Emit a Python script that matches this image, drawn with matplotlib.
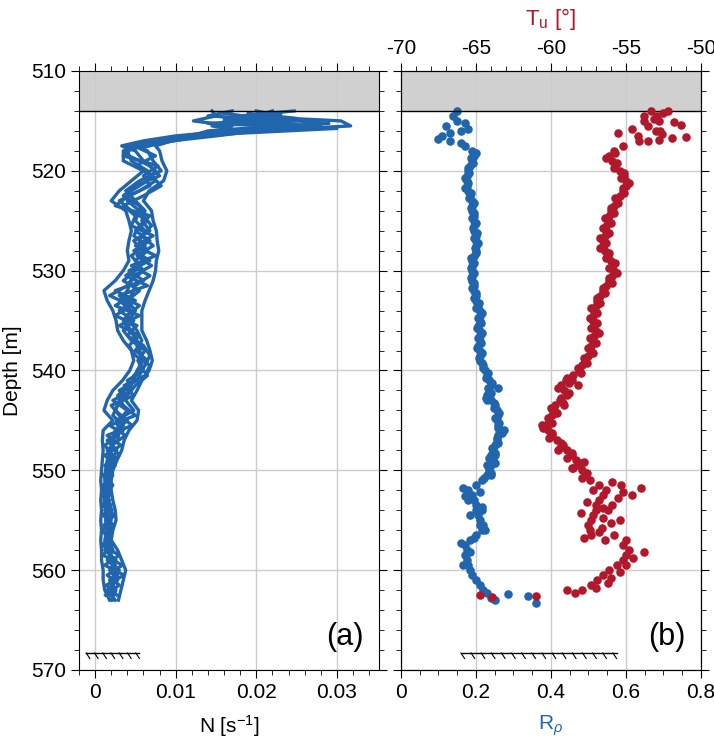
import numpy as np
import matplotlib
matplotlib.use("Agg")
import matplotlib.pyplot as plt

plt.rcParams["font.family"] = ["Liberation Sans", "DejaVu Sans"]
plt.rcParams["mathtext.fontset"] = "custom"
plt.rcParams["mathtext.rm"] = "Liberation Sans"
plt.rcParams["mathtext.it"] = "Liberation Sans:italic"
plt.rcParams["font.size"] = 15
plt.rcParams["axes.unicode_minus"] = False

BLUE = "#2166ac"
RED = "#b2182b"

# ── Data ──────────────────────────────────────────────────────────────────────

# buoyancy frequency profiles (several casts, two depth grids)
n_depth = [514.0, 514.5, 515.0, 515.5, 516.0, 516.5, 517.0, 517.5,
           518, 519, 520, 521, 522, 523, 524, 525, 526, 527, 528, 529,
           530, 531, 532, 533, 534, 535, 536, 537, 538, 539, 540, 541,
           542, 543, 544, 545, 546, 547, 548, 549, 550, 551, 552, 553,
           554, 555, 556, 557, 558, 559, 560, 561, 562, 563]

n_cast1 = [0.0145, 0.0150, 0.0122, 0.0170, 0.0155, 0.0110, 0.0075, 0.0045,
           0.0035, 0.0035, 0.0060, 0.0045, 0.0030, 0.0020, 0.0038, 0.0042,
           0.0045, 0.0042, 0.0040, 0.0042, 0.0035, 0.0025, 0.0011, 0.0015,
           0.0022, 0.0026, 0.0028, 0.0035, 0.0045, 0.0048, 0.0043, 0.0034,
           0.0022, 0.0015, 0.0011, 0.0022, 0.0010, 0.0009, 0.0010, 0.0009,
           0.0008, 0.0007, 0.0008, 0.0007, 0.0008, 0.0007, 0.0008, 0.0007,
           0.0008, 0.0008, 0.0010, 0.0010, 0.0012, 0.0018]
n_cast2 = [0.0247, 0.0180, 0.0305, 0.0317, 0.0200, 0.0150, 0.0095, 0.0075,
           0.0080, 0.0083, 0.0089, 0.0085, 0.0067, 0.0060, 0.0070, 0.0072,
           0.0076, 0.0077, 0.0079, 0.0076, 0.0075, 0.0072, 0.0067, 0.0062,
           0.0058, 0.0058, 0.0058, 0.0064, 0.0068, 0.0071, 0.0067, 0.0058,
           0.0052, 0.0045, 0.0054, 0.0052, 0.0042, 0.0036, 0.0033, 0.0027,
           0.0022, 0.0020, 0.0020, 0.0022, 0.0025, 0.0026, 0.0022, 0.0020,
           0.0028, 0.0033, 0.0038, 0.0035, 0.0032, 0.0029]
n_cast3 = [0.0200, 0.0230, 0.0160, 0.0280, 0.0170, 0.0100, 0.0060, 0.0033,
           0.0050, 0.0060, 0.0075, 0.0065, 0.0045, 0.0040, 0.0055, 0.0050,
           0.0062, 0.0055, 0.0065, 0.0050, 0.0060, 0.0045, 0.0040, 0.0030,
           0.0045, 0.0035, 0.0045, 0.0052, 0.0055, 0.0060, 0.0052, 0.0048,
           0.0035, 0.0030, 0.0025, 0.0040, 0.0025, 0.0022, 0.0020, 0.0015,
           0.0013, 0.0012, 0.0014, 0.0011, 0.0016, 0.0013, 0.0015, 0.0012,
           0.0018, 0.0020, 0.0025, 0.0022, 0.0020, 0.0022]
n_cast4 = [0.0170, 0.0140, 0.0250, 0.0145, 0.0180, 0.0130, 0.0085, 0.0060,
           0.0040, 0.0045, 0.0065, 0.0075, 0.0055, 0.0030, 0.0045, 0.0065,
           0.0050, 0.0068, 0.0048, 0.0068, 0.0042, 0.0060, 0.0025, 0.0050,
           0.0030, 0.0048, 0.0035, 0.0045, 0.0062, 0.0053, 0.0060, 0.0040,
           0.0045, 0.0022, 0.0040, 0.0030, 0.0035, 0.0015, 0.0027, 0.0020,
           0.0017, 0.0015, 0.0010, 0.0018, 0.0012, 0.0020, 0.0010, 0.0016,
           0.0012, 0.0026, 0.0018, 0.0028, 0.0015, 0.0025]
n_cast5 = [0.0220, 0.0200, 0.0190, 0.0230, 0.0140, 0.0120, 0.0070, 0.0050,
           0.0065, 0.0072, 0.0082, 0.0055, 0.0038, 0.0050, 0.0062, 0.0058,
           0.0068, 0.0048, 0.0058, 0.0060, 0.0050, 0.0035, 0.0055, 0.0040,
           0.0050, 0.0042, 0.0052, 0.0058, 0.0050, 0.0065, 0.0058, 0.0052,
           0.0030, 0.0038, 0.0048, 0.0026, 0.0030, 0.0028, 0.0015, 0.0023,
           0.0020, 0.0017, 0.0016, 0.0015, 0.0021, 0.0017, 0.0019, 0.0018,
           0.0022, 0.0015, 0.0030, 0.0018, 0.0026, 0.0020]

n_depth_b = [514.25, 514.75, 515.25, 515.75, 516.25, 516.75, 517.25, 517.75,
             518.5, 519.5, 520.5, 521.5, 522.5, 523.5, 524.5, 525.5, 526.5,
             527.5, 528.5, 529.5, 530.5, 531.5, 532.5, 533.5, 534.5, 535.5,
             536.5, 537.5, 538.5, 539.5, 540.5, 541.5, 542.5, 543.5, 544.5,
             545.5, 546.5, 547.5, 548.5, 549.5, 550.5, 551.5, 552.5, 553.5,
             554.5, 555.5, 556.5, 557.5, 558.5, 559.5, 560.5, 561.5, 562.5]

n_cast6 = [0.0160, 0.0210, 0.0290, 0.0190, 0.0160, 0.0095, 0.0060, 0.0038,
           0.0042, 0.0068, 0.0080, 0.0050, 0.0035, 0.0055, 0.0060, 0.0070,
           0.0058, 0.0072, 0.0052, 0.0070, 0.0048, 0.0040, 0.0018, 0.0045,
           0.0025, 0.0052, 0.0040, 0.0060, 0.0068, 0.0062, 0.0048, 0.0045,
           0.0028, 0.0035, 0.0050, 0.0018, 0.0038, 0.0020, 0.0030, 0.0012,
           0.0022, 0.0010, 0.0018, 0.0009, 0.0024, 0.0011, 0.0020, 0.0009,
           0.0030, 0.0012, 0.0036, 0.0014, 0.0027]
n_cast7 = [0.0230, 0.0160, 0.0200, 0.0260, 0.0130, 0.0115, 0.0080, 0.0055,
           0.0075, 0.0050, 0.0070, 0.0082, 0.0060, 0.0035, 0.0050, 0.0045,
           0.0072, 0.0050, 0.0075, 0.0045, 0.0068, 0.0050, 0.0045, 0.0025,
           0.0055, 0.0030, 0.0055, 0.0042, 0.0050, 0.0068, 0.0062, 0.0036,
           0.0048, 0.0020, 0.0030, 0.0046, 0.0015, 0.0032, 0.0012, 0.0025,
           0.0010, 0.0019, 0.0009, 0.0020, 0.0010, 0.0023, 0.0013, 0.0019,
           0.0010, 0.0034, 0.0015, 0.0030, 0.0013]
n_cast8 = [0.0190, 0.0250, 0.0140, 0.0300, 0.0175, 0.0105, 0.0065, 0.0045,
           0.0035, 0.0078, 0.0060, 0.0068, 0.0042, 0.0025, 0.0068, 0.0055,
           0.0048, 0.0062, 0.0045, 0.0055, 0.0038, 0.0065, 0.0030, 0.0055,
           0.0040, 0.0038, 0.0048, 0.0052, 0.0058, 0.0055, 0.0065, 0.0050,
           0.0040, 0.0028, 0.0022, 0.0035, 0.0028, 0.0012, 0.0022, 0.0018,
           0.0014, 0.0022, 0.0012, 0.0016, 0.0014, 0.0018, 0.0017, 0.0014,
           0.0020, 0.0025, 0.0028, 0.0022, 0.0019]

casts_a = [n_cast1, n_cast2, n_cast3, n_cast4, n_cast5]
casts_b = [n_cast6, n_cast7, n_cast8]

# density ratio and Turner angle (main profile, shared depths)
prof_depth = [514.0, 514.5, 515.0, 515.5, 516.0, 516.5, 517.0, 517.5,
              518.0, 518.5, 519.0, 519.5, 520.0, 520.5, 521.0, 521.5,
              522.0, 522.5, 523.0, 523.5, 524.0, 524.5, 525.0, 525.5,
              526.0, 526.5, 527.0, 527.5, 528.0, 528.5, 529.0, 529.5,
              530.0, 530.5, 531.0, 531.5, 532.0, 532.5, 533.0, 533.5,
              534.0, 534.5, 535.0, 535.5, 536.0, 536.5, 537.0, 537.5,
              538.0, 538.5, 539.0, 539.5, 540.0, 540.5, 541.0, 541.5,
              542.0, 542.5, 543.0, 543.5, 544.0, 544.5, 545.0, 545.5,
              546.0, 546.5, 547.0, 547.5, 548.0, 548.5, 549.0, 549.5,
              550.0, 550.5, 551.0, 551.5, 552.0, 552.5, 553.0, 553.5,
              554.0, 554.5, 555.0, 555.5, 556.0, 556.5, 557.0, 557.5,
              558.0, 558.5, 559.0, 559.5, 560.0, 560.5, 561.0, 561.5,
              562.0, 562.3]

r_rho = [0.15, 0.14, 0.15, 0.12, 0.16, 0.11, 0.13, 0.17,
         0.19, 0.195, 0.19, 0.185, 0.18, 0.175, 0.175, 0.175,
         0.18, 0.185, 0.19, 0.19, 0.19, 0.195, 0.195, 0.195,
         0.195, 0.20, 0.20, 0.20, 0.20, 0.195, 0.19, 0.19,
         0.19, 0.19, 0.19, 0.195, 0.195, 0.20, 0.20, 0.205,
         0.21, 0.21, 0.21, 0.205, 0.21, 0.21, 0.21, 0.205,
         0.21, 0.21, 0.21, 0.22, 0.225, 0.23, 0.235, 0.24,
         0.235, 0.23, 0.24, 0.25, 0.255, 0.26, 0.255, 0.26,
         0.265, 0.26, 0.255, 0.25, 0.245, 0.24, 0.245, 0.24,
         0.235, 0.23, 0.215, 0.20, 0.18, 0.19, 0.195, 0.20,
         0.20, 0.205, 0.21, 0.21, 0.215, 0.20, 0.185, 0.17,
         0.175, 0.17, 0.175, 0.18, 0.185, 0.19, 0.20, 0.21,
         0.22, 0.23]

turner = [-53.3, -53.8, -52.8, -53.5, -52.7, -54.2, -53.5, -55.2,
          -55.8, -56.1, -55.9, -55.7, -55.4, -55.1, -55.0, -55.0,
          -55.2, -55.4, -55.6, -55.8, -56.0, -56.1, -56.2, -56.3,
          -56.3, -56.4, -56.5, -56.5, -56.4, -56.2, -56.0, -55.9,
          -55.8, -55.9, -56.1, -56.3, -56.5, -56.7, -56.9, -57.0,
          -57.1, -57.2, -57.2, -57.1, -57.0, -57.1, -57.2, -57.3,
          -57.3, -57.5, -57.7, -57.9, -58.1, -58.5, -59.0, -59.3,
          -59.1, -58.9, -59.4, -59.7, -59.8, -59.9, -60.1, -60.3,
          -60.2, -59.9, -59.6, -59.2, -58.9, -58.6, -58.3, -58.2,
          -57.9, -57.7, -57.4, -56.8, -56.3, -56.5, -56.8, -57.0,
          -57.0, -57.2, -57.3, -57.5, -57.4, -57.3, -56.4, -55.2,
          -54.8, -55.0, -55.2, -55.6, -56.1, -56.5, -56.9, -57.3,
          -57.9, -58.4]

# intermediate samples in the smooth middle section
mid_depth = [518.25, 518.75, 519.25, 519.75, 520.25, 520.75, 521.25, 521.75,
             522.25, 522.75, 523.25, 523.75, 524.25, 524.75, 525.25, 525.75,
             526.25, 526.75, 527.25, 527.75, 528.25, 528.75, 529.25, 529.75,
             530.25, 530.75, 531.25, 531.75, 532.25, 532.75, 533.25, 533.75,
             534.25, 534.75, 535.25, 535.75, 536.25, 536.75, 537.25, 537.75,
             538.25, 538.75, 539.25, 539.75, 540.25, 540.75, 541.25, 541.75,
             542.25, 542.75, 543.25, 543.75, 544.25, 544.75, 545.25, 545.75,
             546.25, 546.75, 547.25, 547.75, 548.25, 548.75, 549.25, 549.75,
             550.25, 550.75]
r_rho_mid = [0.200, 0.188, 0.193, 0.178, 0.182, 0.170, 0.180, 0.172,
             0.187, 0.182, 0.195, 0.186, 0.196, 0.190, 0.200, 0.192,
             0.202, 0.196, 0.205, 0.197, 0.200, 0.188, 0.195, 0.186,
             0.194, 0.186, 0.196, 0.190, 0.200, 0.196, 0.207, 0.200,
             0.215, 0.205, 0.214, 0.202, 0.215, 0.206, 0.213, 0.203,
             0.215, 0.207, 0.216, 0.218, 0.232, 0.228, 0.243, 0.232,
             0.240, 0.228, 0.247, 0.248, 0.262, 0.252, 0.262, 0.258,
             0.270, 0.255, 0.258, 0.243, 0.250, 0.236, 0.250, 0.235,
             0.240, 0.222]
turner_mid = [-55.7, -56.3, -55.6, -55.8, -55.1, -55.3, -54.8, -55.2,
              -55.1, -55.7, -55.5, -56.0, -55.8, -56.4, -56.0, -56.5,
              -56.1, -56.7, -56.3, -56.7, -56.1, -56.3, -55.7, -56.1,
              -55.6, -56.1, -55.9, -56.5, -56.4, -56.9, -56.7, -57.3,
              -56.9, -57.4, -56.9, -57.3, -56.8, -57.4, -57.0, -57.5,
              -57.2, -57.8, -57.6, -58.2, -58.0, -58.9, -58.8, -59.5,
              -58.8, -59.3, -59.2, -60.0, -59.6, -60.2, -59.9, -60.5,
              -59.9, -60.1, -59.3, -59.4, -58.6, -58.9, -58.0, -58.5,
              -57.6, -57.9]

# scattered extra samples
r_extra_depth = [515.2, 515.8, 516.2, 516.8, 517.2, 541.8, 543.0, 546.0,
                 548.5, 549.5, 550.5, 551.8, 552.2, 553.0, 554.0, 555.5,
                 557.3, 558.2, 559.5, 562.4, 562.6, 563.3, 562.8, 563.0,
                 552.6, 553.7, 554.5, 556.0, 556.8]
r_extra = [0.17, 0.18, 0.13, 0.10, 0.16, 0.26, 0.23, 0.275,
           0.25, 0.23, 0.24, 0.165, 0.21, 0.18, 0.215, 0.22,
           0.16, 0.185, 0.165, 0.285, 0.34, 0.36, 0.24, 0.25,
           0.17, 0.215, 0.185, 0.225, 0.195]

tu_extra_depth = [514.2, 514.5, 514.8, 515.1, 515.4, 515.8, 516.2, 516.0,
                  516.6, 516.7, 516.3, 517.0, 516.9, 514.0, 515.0,
                  541.5, 541.0, 543.5, 545.5, 546.5, 548.0, 549.2, 549.8,
                  551.2, 551.8, 552.2, 552.8, 553.2, 554.0, 554.8, 555.3,
                  556.2, 556.8, 557.0, 558.2, 558.8, 559.5, 560.2, 560.8,
                  561.3, 561.8, 562.0, 562.5, 562.7, 562.6,
                  551.5, 552.5, 553.5, 554.3, 555.0, 555.8, 556.5, 553.8,
                  552.0]
tu_extra = [-52.5, -52.9, -53.1, -51.8, -51.3, -54.6, -55.5, -53.0,
            -51.0, -51.9, -52.6, -54.1, -52.8, -52.2, -53.8,
            -58.2, -58.6, -59.1, -60.6, -60.0, -59.5, -57.8, -58.6,
            -55.9, -54.0, -55.2, -55.5, -57.6, -56.2, -56.5, -56.0,
            -56.8, -57.8, -55.0, -53.8, -54.5, -55.0, -55.4, -56.0,
            -56.2, -57.0, -58.9, -64.7, -63.9, -61.0,
            -55.3, -54.6, -55.9, -58.0, -55.4, -56.6, -55.8, -56.5,
            -57.2]

ice_base = 514.0
seabed = 568.3
seabed_a = (-0.0011, 0.0055)
seabed_b = (0.16, 0.575)


# ── Plot ──────────────────────────────────────────────────────────────────────

def seabed_mark(ax, x0, x1, depth, n):
    lo, hi = ax.get_xlim()
    dx = 0.012 * (hi - lo)
    ax.plot([x0, x1], [depth, depth], color="k", lw=1, zorder=3)
    for x in np.linspace(x0, x1 - dx, n):
        ax.plot([x, x + dx], [depth, depth + 0.55], color="k", lw=0.8, zorder=3)


def style_axis(ax):
    ax.set_ylim(570, 510)
    ax.set_yticks(np.arange(510, 571, 10))
    ax.set_yticks(np.arange(510, 571, 2), minor=True)
    ax.grid(True, which="major", color="#cccccc", lw=1)
    ax.axhspan(510, ice_base, color="#d0d0d0", lw=0, zorder=1)
    ax.axhline(ice_base, color="k", lw=1, zorder=3)
    ax.tick_params(which="both", direction="out", top=True, right=True)
    ax.tick_params(which="major", length=6)
    ax.tick_params(which="minor", length=3.5)


fig = plt.figure(figsize=(7.14, 7.45), dpi=100)
ax1 = fig.add_axes([0.1106, 0.1007, 0.420, 0.804])
ax2 = fig.add_axes([0.5616, 0.1007, 0.420, 0.804])

# (a) N
for cast in casts_a:
    ax1.plot(cast, n_depth, color=BLUE, lw=2.4, zorder=2)
for cast in casts_b:
    ax1.plot(cast, n_depth_b, color=BLUE, lw=2.4, zorder=2)
ax1.set_xlim(-0.002, 0.0352)
ax1.set_xticks([0, 0.01, 0.02, 0.03])
ax1.set_xticklabels(["0", "0.01", "0.02", "0.03"])
ax1.set_xticks(np.arange(-0.002, 0.0352, 0.002), minor=True)
style_axis(ax1)
ax1.set_ylabel("Depth [m]", labelpad=6)
ax1.set_xlabel("N [s$^{-1}$]", labelpad=8)
seabed_mark(ax1, seabed_a[0], seabed_a[1], seabed, 7)
ax1.text(0.95, 0.03, "(a)", transform=ax1.transAxes, ha="right",
         va="bottom", fontsize=22)

# (b) R_rho and Tu
for rr, dd in [(r_rho, prof_depth), (r_rho_mid, mid_depth),
               (r_extra, r_extra_depth)]:
    ax2.scatter(rr, dd, s=38, color=BLUE, lw=0, zorder=2)
ax2.set_xlim(0, 0.8)
ax2.set_xticks([0, 0.2, 0.4, 0.6, 0.8])
ax2.set_xticklabels(["0", "0.2", "0.4", "0.6", "0.8"])
ax2.set_xticks(np.arange(0, 0.81, 0.05), minor=True)
style_axis(ax2)
ax2.tick_params(labelleft=False, top=False, which="both")
ax2.set_xlabel(r"R$_\rho$", color=BLUE, labelpad=8)
seabed_mark(ax2, seabed_b[0], seabed_b[1], seabed, 16)
ax2.text(0.95, 0.03, "(b)", transform=ax2.transAxes, ha="right",
         va="bottom", fontsize=22)

ax2t = ax2.twiny()
for tt, dd in [(turner, prof_depth), (turner_mid, mid_depth),
               (tu_extra, tu_extra_depth)]:
    ax2t.scatter(tt, dd, s=38, color=RED, lw=0, zorder=2)
ax2t.set_xlim(-70, -50)
ax2t.set_xticks([-70, -65, -60, -55, -50])
ax2t.set_xticks(np.arange(-70, -49, 1), minor=True)
ax2t.tick_params(which="both", direction="out")
ax2t.tick_params(which="major", length=6)
ax2t.tick_params(which="minor", length=3.5)
ax2t.set_xlabel("T$_\\mathrm{u}$ [°]", color=RED, fontsize=16, labelpad=10)
ax2t.set_ylim(570, 510)

fig.savefig("out.png", dpi=100)
plt.close(fig)
